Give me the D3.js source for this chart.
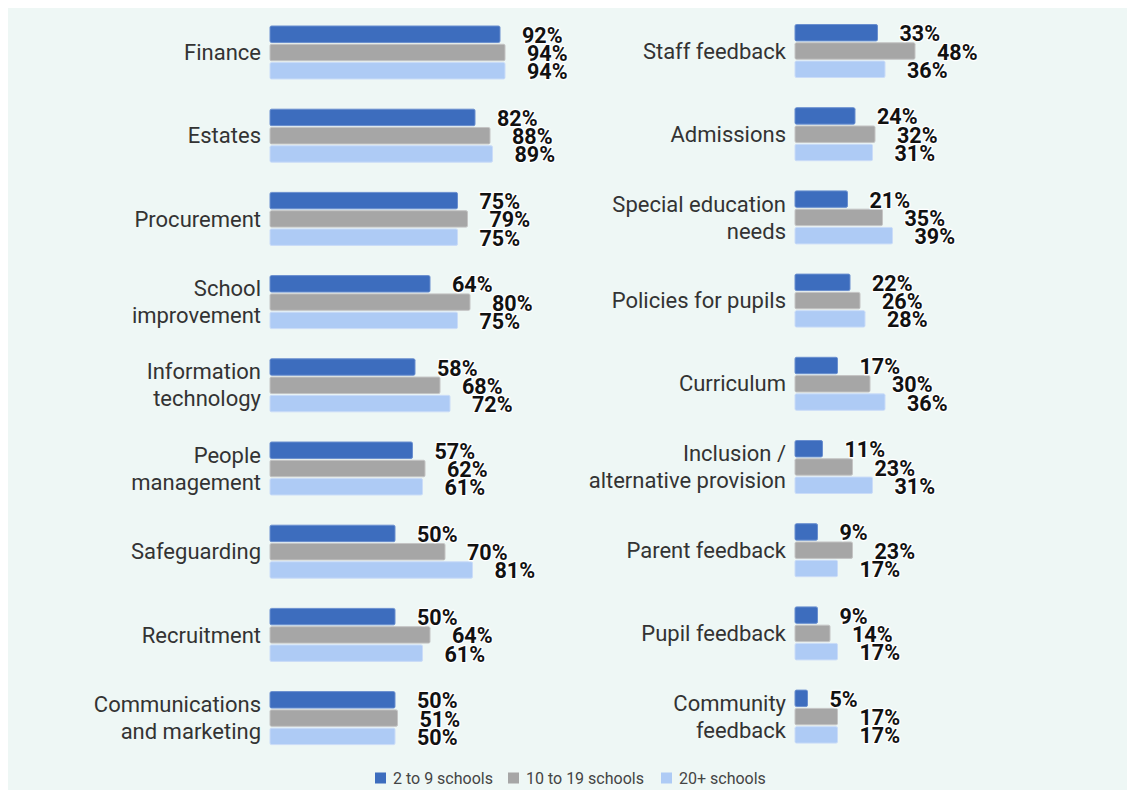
<!DOCTYPE html>
<html>
<head>
<meta charset="utf-8">
<script src="https://cdn.jsdelivr.net/npm/d3@7"></script>
<style>
  html, body { margin: 0; padding: 0; background: #ffffff; }
  svg { display: block; }
</style>
</head>
<body>
<svg id="chart" width="1127" height="790"></svg>
<script>
// Series (school group sizes)
const seriesNames = ["2 to 9 schools", "10 to 19 schools", "20+ schools"];
const seriesColors = ["#3d6dbe", "#a6a6a6", "#aecbf5"];
const seriesStrokes = ["#6a8fcf", "#c4c4c4", "#cadcf8"];

// Left column: categories (line breaks with "\n") and values per series
const leftCategories = [
  "Finance", "Estates", "Procurement", "School\nimprovement",
  "Information\ntechnology", "People\nmanagement", "Safeguarding",
  "Recruitment", "Communications\nand marketing"
];
const leftSmall  = [92, 82, 75, 64, 58, 57, 50, 50, 50];
const leftMedium = [94, 88, 79, 80, 68, 62, 70, 64, 51];
const leftLarge  = [94, 89, 75, 75, 72, 61, 81, 61, 50];

// Right column
const rightCategories = [
  "Staff feedback", "Admissions", "Special education\nneeds",
  "Policies for pupils", "Curriculum", "Inclusion /\nalternative provision",
  "Parent feedback", "Pupil feedback", "Community\nfeedback"
];
const rightSmall  = [33, 24, 21, 22, 17, 11, 9, 9, 5];
const rightMedium = [48, 32, 35, 26, 30, 23, 23, 14, 17];
const rightLarge  = [36, 31, 39, 28, 36, 31, 17, 17, 17];

const svg = d3.select("#chart");

// panel background
svg.append("rect")
  .attr("x", 8).attr("y", 8)
  .attr("width", 1127 - 8).attr("height", 790 - 8)
  .attr("fill", "#eef7f5");

function drawPanel(categories, values, x0, yShift) {
  const rows = categories.map((c, i) => ({
    cat: c,
    vals: values.map(v => v[i])
  }));

  const y = d3.scaleBand()
    .domain(categories)
    .range([26 + yShift, 26 + yShift + 8 * 83.2 + 53])
    .paddingInner(0.363)
    .paddingOuter(0);

  const ySub = d3.scaleBand()
    .domain(d3.range(seriesNames.length))
    .range([0, y.bandwidth()])
    .paddingInner(0.1);

  const x = d3.scaleLinear().domain([0, 100]).range([x0, x0 + 250]);

  const g = svg.append("g");

  const groups = g.selectAll("g.row")
    .data(rows)
    .join("g")
    .attr("class", "row")
    .attr("transform", d => `translate(0,${y(d.cat)})`);

  // bars
  groups.selectAll("rect")
    .data(d => d.vals.map((v, s) => ({ v, s })))
    .join("rect")
    .attr("x", x(0))
    .attr("y", d => ySub(d.s))
    .attr("width", d => x(d.v) - x(0))
    .attr("height", ySub.bandwidth())
    .attr("rx", 1.5)
    .attr("fill", d => seriesColors[d.s])
    .attr("stroke", d => seriesStrokes[d.s])
    .attr("stroke-width", 1);

  // value labels
  groups.selectAll("text.val")
    .data(d => d.vals.map((v, s) => ({ v, s })))
    .join("text")
    .attr("class", "val")
    .attr("x", d => x(d.v) + 22)
    .attr("y", d => ySub(d.s) + ySub.bandwidth() / 2 + 1)
    .attr("dy", "0.35em")
    .attr("font-family", "Roboto, 'Noto Sans', sans-serif")
    .attr("font-weight", "bold")
    .attr("font-size", 21.5)
    .attr("fill", "#111")
    .attr("stroke", "#ffffff")
    .attr("stroke-width", 2.5)
    .attr("stroke-linejoin", "round")
    .attr("paint-order", "stroke")
    .text(d => d.v + "%");

  // category labels
  groups.each(function(d) {
    const lines = d.cat.split("\n");
    const lh = 27;
    const cy = y.bandwidth() / 2;
    const t = d3.select(this).append("text")
      .attr("text-anchor", "end")
      .attr("font-family", "Roboto, 'Noto Sans', sans-serif")
      .attr("font-size", 22)
      .attr("fill", "#333333");
    lines.forEach((ln, k) => {
      t.append("tspan")
        .attr("x", x0 - 9)
        .attr("y", cy + (k - (lines.length - 1) / 2) * lh)
        .attr("dy", "0.35em")
        .text(ln);
    });
  });
}

drawPanel(leftCategories, [leftSmall, leftMedium, leftLarge], 270, 0);
drawPanel(rightCategories, [rightSmall, rightMedium, rightLarge], 795, -1.5);

// legend
const legendX = [375, 508, 661];
const legend = svg.append("g").attr("transform", "translate(0,778)");
seriesNames.forEach((name, i) => {
  legend.append("rect")
    .attr("x", legendX[i]).attr("y", -5.5)
    .attr("width", 11).attr("height", 11)
    .attr("fill", seriesColors[i]);
  legend.append("text")
    .attr("x", legendX[i] + 18).attr("y", 0)
    .attr("dy", "0.35em")
    .attr("font-family", "Roboto, 'Noto Sans', sans-serif")
    .attr("font-size", 16)
    .attr("fill", "#444444")
    .text(name);
});
</script>
</body>
</html>
